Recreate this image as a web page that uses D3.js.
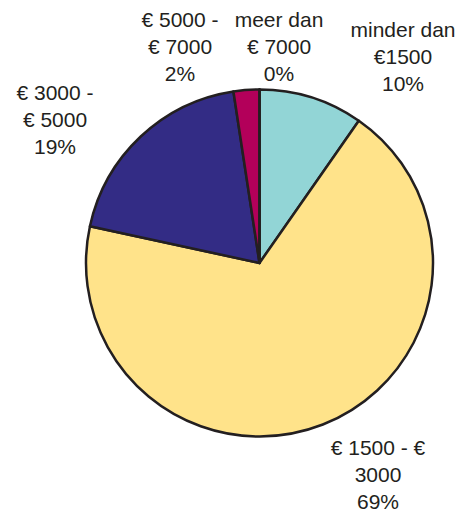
<!DOCTYPE html>
<html>
<head>
<meta charset="utf-8">
<script src="https://cdn.jsdelivr.net/npm/d3@7"></script>
<style>
  body { margin: 0; background: #fff; }
  svg text { font-family: "Liberation Sans", Arial, sans-serif; fill: #231f20; }
</style>
</head>
<body>
<div id="chart"></div>
<script>
// categorieën en waarden (in %)
const categories = ['minder dan €1500', '€ 1500 - € 3000', '€ 3000 - € 5000', '€ 5000 - € 7000', 'meer dan € 7000'];
const values = [9.7, 68.7, 19.2, 2.4, 0];
const percentLabels = ['10%', '69%', '19%', '2%', '0%'];
const labelLines = [
    ['minder dan', '€1500'],
    ['€ 1500 - €', '3000'],
    ['€ 3000 -', '€ 5000'],
    ['€ 5000 -', '€ 7000'],
    ['meer dan', '€ 7000']
];
const colors = ['#92d5d6', '#ffe38a', '#332c85', '#b3005a', '#d9d9d9'];

// plaats van de labels (midden van eerste regel, baseline)
const labelPos = [[403, 37], [378, 455], [55, 100], [180, 27], [279, 27]];

const width = 461, height = 513;
const cx = 259.5, cy = 263, radius = 173.5;

let svg = d3.select('#chart')
    .append('svg')
    .attr('width', width)
    .attr('height', height);

const pie = d3.pie().sort(null).value(d => d);
const arc = d3.arc().innerRadius(0).outerRadius(radius);

const g = svg.append('g').attr('transform', `translate(${cx},${cy})`);

g.selectAll('path')
    .data(pie(values))
    .enter()
    .append('path')
    .attr('d', arc)
    .attr('fill', (d, i) => colors[i])
    .attr('stroke', '#231f20')
    .attr('stroke-width', 2.5)
    .attr('stroke-linejoin', 'round');

// labels
categories.forEach((c, i) => {
    const lines = labelLines[i].concat([percentLabels[i]]);
    const t = svg.append('text')
        .attr('x', labelPos[i][0])
        .attr('y', labelPos[i][1])
        .attr('text-anchor', 'middle')
        .attr('font-size', 21);
    lines.forEach((l, j) => {
        t.append('tspan')
            .attr('x', labelPos[i][0])
            .attr('dy', j === 0 ? 0 : 27)
            .text(l);
    });
});
</script>
</body>
</html>
